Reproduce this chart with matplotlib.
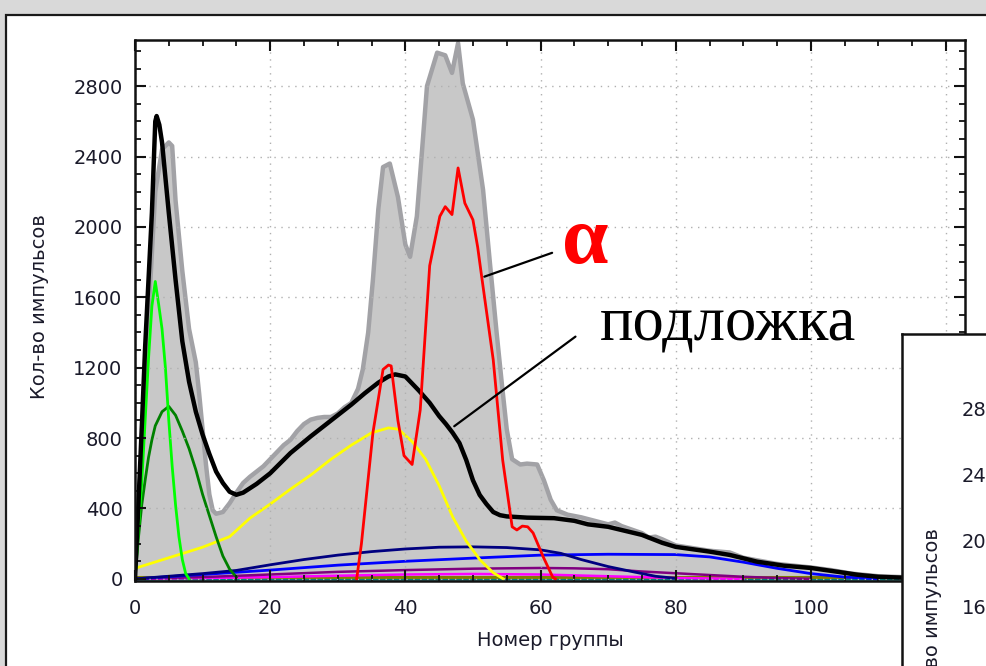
import matplotlib
matplotlib.use("Agg")
import matplotlib.pyplot as plt
from matplotlib.patches import Rectangle
from matplotlib.ticker import MultipleLocator

# ---------------- data (channel, counts) ----------------
spectrum = [(0,150),(1,700),(2,1500),(3,2200),(4,2440),(5,2480),(5.5,2460),(6,2150),(7,1750),
            (8,1420),(9,1230),(9.5,1050),(10,850),(10.5,650),(11,480),(11.5,390),(12,370),(13,380),
            (14,430),(15,490),(16,545),(17,580),(18,610),(19,640),(20,680),(21,720),(22,760),(23,790),
            (24,840),(25,880),(26,905),(27,915),(28,920),(29,920),(30,940),(31,975),(32,1000),(33,1080),
            (33.7,1190),(34.5,1400),(35.2,1700),(36,2100),(36.7,2340),(37.7,2360),(38.9,2170),(40,1900),
            (40.7,1830),(41.7,2060),(42.5,2450),(43.2,2800),(44.7,2990),(45.9,2975),(46.9,2875),
            (47.8,3045),(48.5,2815),(50,2610),(51.5,2210),(52.5,1800),(53.5,1400),(54.3,1100),(55,850),
            (55.8,680),(57,650),(58,655),(59.5,650),(60.5,560),(61.5,450),(62.4,390),(64,365),(66,350),
            (68,330),(70,310),(71,320),(72,300),(75,260),(76,235),(77,240),(78,225),(80,190),(85,160),
            (88,150),(90,120),(95,85),(100,65),(103,50),(106,30),(110,15),(115,8),(120,5),(122.8,3)]

total_fit = [(0,0),(0.5,420),(1,860),(1.5,1318),(2,1700),(2.5,2080),(3,2600),(3.2,2630),(3.6,2580),
             (4,2480),(5,2080),(6,1700),(7,1350),(8,1120),(9,950),(10,820),(11,710),(12,610),(13,545),
             (14,495),(15,478),(16,490),(18,540),(20,600),(23,715),(26,810),(29,900),(32,990),(34,1055),
             (36,1115),(37.5,1150),(38.5,1162),(40,1150),(42,1070),(43.6,1000),(45,925),(46,880),
             (47,830),(48,772),(49,676),(50,560),(51,477),(52,425),(53,380),(54,362),(55,355),(58,348),
             (62,345),(65,330),(67,310),(70,296),(75,250),(78,205),(80,182),(85,155),(88,136),(92,98),
             (96,75),(100,62),(104,40),(107,23),(110,12),(115,5),(122.8,3)]

lime_peak = [(0,0),(1,550),(2,1250),(2.5,1550),(3,1690),(3.5,1560),(4,1420),(4.5,1200),(5,900),
             (5.5,640),(6,420),(6.5,240),(7,110),(7.5,30),(8,0)]

green_peak = [(0,0),(0.5,230),(1,420),(1.5,560),(2,690),(2.5,790),(3,870),(4,950),(5,980),(6,930),
              (7,840),(8,740),(9,620),(10,480),(11,360),(12,240),(13,130),(14,55),(15,10)]

yellow_peak = [(0,60),(5,120),(10,180),(14,240),(17,345),(20,425),(23,510),(26,590),(29,680),(32,760),
               (35,830),(37.5,858),(39,850),(41,780),(43,680),(45,530),(47,352),(49,215),(51,110),
               (53,35),(54.5,0)]

alpha_peak = [(32.8,0),(33.5,200),(35.2,830),(36.7,1190),(37.5,1215),(37.9,1210),(38.9,900),(39.8,700),
              (41,650),(42.2,960),(43.6,1780),(45.1,2060),(45.9,2115),(46.9,2070),(47.8,2335),
              (48.8,2135),(50,2040),(50.7,1885),(51.3,1715),(53,1245),(54.4,675),(55.8,296),(56.5,278),
              (57.3,300),(58.1,296),(58.9,261),(60.4,125),(61.8,10),(62.2,0)]

navy_peak = [(0,0),(5,15),(10,30),(15,48),(20,80),(25,110),(30,135),(35,155),(40,170),(45,180),(50,182),
             (55,178),(60,165),(63,145),(66,110),(70,70),(74,38),(77,15),(80,3)]

blue_peak = [(0,0),(10,25),(20,50),(30,78),(40,100),(50,118),(60,135),(70,140),(80,138),(85,125),
             (90,95),(95,60),(100,30),(105,10),(110,0)]

purple_peak = [(0,0),(10,10),(20,25),(30,40),(40,50),(50,58),(60,62),(65,60),(70,55),(75,42),(80,32),
               (85,22),(90,12),(95,5),(100,0)]

magenta_peak = [(0,0),(20,10),(30,18),(40,25),(50,28),(60,25),(70,15),(80,5),(90,0)]

olive_level = [(0,10),(122.8,10)]
teal_level = [(0,2),(122.8,2)]

xlabel = "Номер группы"
ylabel = "Кол-во импульсов"
second_ticks = ["28", "24", "20", "16"]


def xy(pairs):
    return [p[0] for p in pairs], [p[1] for p in pairs]


W, H = 986, 666
fig = plt.figure(figsize=(W / 100, H / 100), dpi=100)
fig.patch.set_facecolor("#d9d9d9")
fig.add_artist(Rectangle((6 / W, -0.05), 1.2, (H - 15) / H + 0.05, transform=fig.transFigure,
                         facecolor="white", edgecolor="#1a1a1a", lw=1.6, zorder=-1))

ax = fig.add_axes([135 / W, 1 - 581 / H, (965 - 135) / W, (581 - 40) / H])
ax.set_facecolor("white")

sx, sy = xy(spectrum)
ax.fill_between(sx, sy, 0, color="#c8c8c8", lw=0, zorder=1)
ax.plot(sx, sy, color="#a2a2a6", lw=3.2, zorder=1.2, solid_joinstyle="round")

for data, col, lw in [(teal_level, "#008080", 1.8), (olive_level, "#808000", 2.2),
                      (magenta_peak, "#ff00ff", 1.8), (purple_peak, "#800080", 1.8),
                      (blue_peak, "#0000ff", 2.0), (navy_peak, "#000080", 2.0),
                      (yellow_peak, "#ffff00", 2.0), (green_peak, "#008000", 2.0),
                      (lime_peak, "#00ff00", 2.0)]:
    x, y = xy(data)
    ax.plot(x, y, color=col, lw=lw, zorder=2)

fx, fy = xy(total_fit)
ax.plot(fx, fy, color="black", lw=3.2, zorder=3, solid_joinstyle="round")
rx, ry = xy(alpha_peak)
ax.plot(rx, ry, color="#ff0000", lw=2.0, zorder=3.5)

ax.set_xlim(0, 122.8)
ax.set_ylim(-12, 3062)
ax.xaxis.set_major_locator(MultipleLocator(20))
ax.xaxis.set_minor_locator(MultipleLocator(5))
ax.yaxis.set_major_locator(MultipleLocator(400))
ax.yaxis.set_minor_locator(MultipleLocator(100))
ax.grid(True, which="major", color="#b0b0b0", lw=1.0, linestyle=(0, (1, 4)), zorder=1.5)
ax.set_axisbelow(False)
for gl in ax.get_xgridlines() + ax.get_ygridlines():
    gl.set_zorder(1.5)

ax.tick_params(which="both", direction="in", top=True, right=True, color="#111111")
ax.tick_params(which="major", length=8, width=1.5)
ax.tick_params(which="minor", length=4, width=1.3)
ax.tick_params(axis="y", labelsize=14, pad=9, labelcolor="#1a1a2a")
ax.tick_params(axis="x", labelsize=14, pad=13, labelcolor="#1a1a2a")
for s in ax.spines.values():
    s.set_linewidth(1.8)
    s.set_color("#111111")
    s.set_zorder(4)

ax.set_xlabel(xlabel, fontsize=14, color="#1a1a2a")
ax.xaxis.label.set_va("center")
ax.xaxis.set_label_coords(0.5, (581 - 640) / 541)
ax.set_ylabel(ylabel, fontsize=14, color="#1a1a2a")
ax.yaxis.label.set_va("center")
ax.yaxis.set_label_coords((40 - 135) / 830, (581 - 307) / 541)

# annotations
ax.annotate("", xy=(51.3, 1712), xytext=(62.1, 1858),
            arrowprops=dict(arrowstyle="-", color="black", lw=1.6), zorder=5)
ax.annotate("", xy=(46.9, 858), xytext=(65.5, 1386),
            arrowprops=dict(arrowstyle="-", color="black", lw=1.6), zorder=5)
ax.text(66.6, 1795, "α", color="#ff0000", fontsize=60, fontweight="bold",
        family="Liberation Serif", ha="center", va="baseline", zorder=6)
ax.text(87.7, 1358, "подложка", color="black", fontsize=45,
        family="Liberation Serif", ha="center", va="baseline", zorder=6)

# overlapping second panel
ax2 = fig.add_axes([902 / W, -0.05, 0.2, (H - 334) / H + 0.05], zorder=10)
ax2.set_facecolor("white")
ax2.set_xticks([])
ax2.set_yticks([])
for k, s in ax2.spines.items():
    s.set_visible(k in ("left", "top"))
    s.set_linewidth(1.8)
    s.set_color("#111111")
for lab, ypx in zip(second_ticks, [410, 477, 542, 608]):
    ax2.text(962 / W, 1 - ypx / H, lab, transform=fig.transFigure, fontsize=14,
             color="#1a1a2a", ha="left", va="center")
ax2.text(933 / W, 1 - 528 / H, ylabel, transform=fig.transFigure, fontsize=14,
         color="#1a1a2a", rotation=90, ha="center", va="top")

fig.savefig("out.png", dpi=100, facecolor=fig.get_facecolor())
